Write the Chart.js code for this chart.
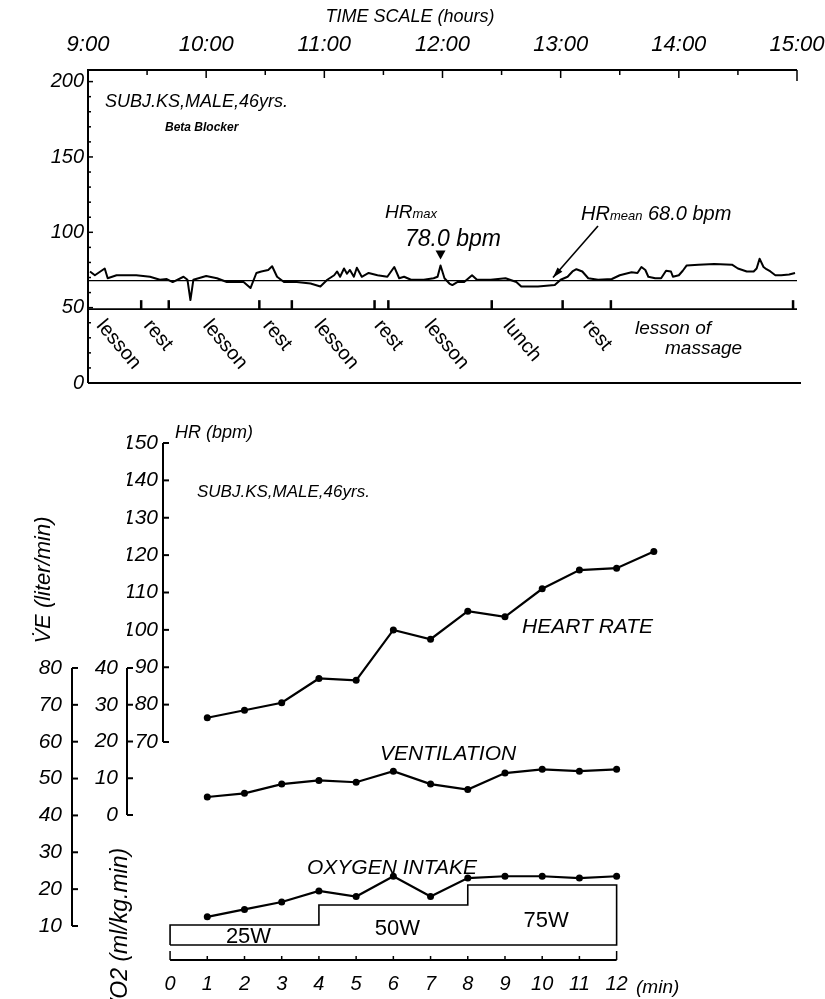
<!DOCTYPE html>
<html>
<head>
<meta charset="utf-8">
<script src="https://cdn.jsdelivr.net/npm/chart.js@4.4.1/dist/chart.umd.min.js"></script>
<style>
  html, body { margin: 0; padding: 0; background: #fff; }
  #wrap { position: relative; width: 825px; height: 999px; overflow: hidden; }
  canvas { position: absolute; left: 0; }
  #top { top: 0; }
  #bottom { top: 400px; }
</style>
</head>
<body>
<div id="wrap">
  <canvas id="top" width="825" height="400"></canvas>
  <canvas id="bottom" width="825" height="599"></canvas>
</div>
<script>
// ---- upper panel: heart rate during the day (minutes after 9:00) ----
const hourLabels = ['9:00', '10:00', '11:00', '12:00', '13:00', '14:00', '15:00'];
const bpmTicks = [0, 50, 100, 150, 200];
const hrTime = [1, 3.5, 8.5, 10, 14.5, 24.5, 31.5, 36.5, 40, 43, 48.5, 50.5, 52, 53.5, 60, 65.5, 70.5, 79, 82.5, 85.5,
  88, 91.5, 93.5, 96, 99.5, 106, 113, 118, 121.5, 125, 126.5, 128, 130, 131.5, 133, 135, 136.5, 139, 142.5, 147,
  152, 155.5, 158, 160.5, 164, 170.5, 175.5, 177.5, 179, 181, 183.5, 185, 187.5, 191, 195, 197.5, 204.5, 212, 217.5, 220,
  228.5, 237, 240, 243.5, 246, 248, 251, 254, 259, 266, 270, 276, 279, 281, 283, 284.5, 288, 291, 293.5, 296,
  297, 300, 302, 304, 310, 318, 327, 330, 334.5, 338, 339.5, 341, 343, 344.5, 346.5, 349, 352, 356, 359];
const hrBpm = [74, 71.5, 76, 69.5, 71.5, 71.5, 70.5, 68.5, 69, 67, 70.5, 68.5, 55, 68.5, 71, 69.5, 67, 67, 63, 73,
  74, 75, 77.5, 70.5, 67, 67, 66, 64, 68.5, 71.5, 74, 70.5, 76, 72.5, 75, 70.5, 76.5, 70.5, 73, 71.5,
  70.5, 77, 69.5, 70.5, 68.5, 68.5, 69.5, 70.5, 78, 69.5, 66, 65, 67, 67, 71.5, 68.5, 68.5, 69.5, 67, 64,
  64, 65, 68.5, 70.5, 74, 75.5, 74, 69.5, 68.5, 69, 71.5, 73.5, 73, 77, 75, 70.5, 69.5, 69.5, 74.5, 74,
  70.5, 71.5, 74.5, 78, 78.5, 79, 78.5, 76, 74, 74, 76, 82.5, 77, 75.5, 74, 71.5, 71.5, 72, 73];
const hrMean = 68.0;
const hrMax = 78.0;
const hrMaxTime = 179;
const eventTimes = [27, 41, 87, 103.5, 145.5, 152.5, 205, 241, 265.5, 358];
const activities = ['lesson', 'rest', 'lesson', 'rest', 'lesson', 'rest', 'lesson', 'lunch', 'rest'];
const activityTimes = [10, 34, 64, 94.5, 120.5, 151, 176.5, 216.5, 257];

// ---- lower panel: cycle ergometer test ----
const minuteTicks = [0, 1, 2, 3, 4, 5, 6, 7, 8, 9, 10, 11, 12];
const minutes = [1, 2, 3, 4, 5, 6, 7, 8, 9, 10, 11, 12];
const hrMinutes = [1, 2, 3, 4, 5, 6, 7, 8, 9, 10, 11, 12, 13];
const heartRate = [76.5, 78.5, 80.5, 87, 86.5, 100, 97.5, 105, 103.5, 111, 116, 116.5, 121];
const ventilation = [45, 46, 48.5, 49.5, 49, 52, 48.5, 47, 51.5, 52.5, 52, 52.5];
const oxygenIntake = [12.5, 14.5, 16.5, 19.5, 18, 23.5, 18, 23, 23.5, 23.5, 23, 23.5];
const hrAxisTicks = [70, 80, 90, 100, 110, 120, 130, 140, 150];
const midAxisTicks = [0, 10, 20, 30, 40];
const leftAxisTicks = [10, 20, 30, 40, 50, 60, 70, 80];
const stageStart = [0, 4, 8];
const stageEnd = [4, 8, 12];
const stageWatts = [25, 50, 75];
const stageLabels = ['25W', '50W', '75W'];

const FONT = '"Liberation Sans", Arial, sans-serif';
const italic = (size, weight) => ({ family: FONT, size: size, style: 'italic', weight: weight || 'normal' });

// fixed box size, no extra room for overhanging labels
const fixSize = (prop, size) => (s) => {
    s[prop] = size;
    s.paddingLeft = 0;
    s.paddingRight = 0;
    s.paddingTop = 0;
    s.paddingBottom = 0;
};

function text(ctx, str, x, y, size, opts) {
    opts = opts || {};
    ctx.font = (opts.italic === false ? '' : 'italic ') + (opts.bold ? 'bold ' : '') + size + 'px ' + FONT;
    ctx.textAlign = opts.align || 'left';
    ctx.textBaseline = opts.baseline || 'alphabetic';
    ctx.fillText(str, x, y);
    return ctx.measureText(str).width;
}

const topDecor = {
    id: 'topDecor',
    afterDraw(chart) {
        const { ctx, chartArea: a, scales: { x, y } } = chart;
        ctx.save();
        ctx.strokeStyle = '#000';
        ctx.fillStyle = '#000';
        ctx.lineWidth = 2;
        ctx.beginPath();
        ctx.moveTo(a.left, a.bottom);
        ctx.lineTo(a.left, a.top);
        ctx.lineTo(a.right, a.top);
        ctx.moveTo(a.left, a.bottom);
        ctx.lineTo(a.right + 4, a.bottom);
        ctx.stroke();

        ctx.lineWidth = 1.5;
        for (let m = 30; m <= 360; m += 30) {
            const px = x.getPixelForValue(m);
            const len = m === 360 ? 11 : (m % 60 === 0 ? 8 : 5);
            ctx.beginPath();
            ctx.moveTo(px, a.top);
            ctx.lineTo(px, a.top + len);
            ctx.stroke();
        }
        for (let v = 10; v <= 200; v += 10) {
            const py = y.getPixelForValue(v);
            ctx.beginPath();
            ctx.moveTo(a.left, py);
            ctx.lineTo(a.left + (v % 50 === 0 ? 5 : 3), py);
            ctx.stroke();
        }

        // activity time line with event marks
        const base = y.getPixelForValue(49);
        ctx.lineWidth = 1.6;
        ctx.beginPath();
        ctx.moveTo(a.left, base);
        ctx.lineTo(x.getPixelForValue(360), base);
        ctx.stroke();
        ctx.lineWidth = 2.5;
        eventTimes.forEach((t) => {
            const px = x.getPixelForValue(t);
            ctx.beginPath();
            ctx.moveTo(px, base);
            ctx.lineTo(px, base - 9);
            ctx.stroke();
        });

        // activity labels
        activities.forEach((label, i) => {
            ctx.save();
            ctx.translate(x.getPixelForValue(activityTimes[i]), 316);
            ctx.rotate(50 * Math.PI / 180);
            text(ctx, label, 0, 0, 20, { italic: false, baseline: 'top' });
            ctx.restore();
        });
        text(ctx, 'lesson of', 635, 334, 19);
        text(ctx, 'massage', 665, 354, 19);

        // titles and notes
        text(ctx, 'TIME SCALE (hours)', 410, 22, 18, { align: 'center' });
        text(ctx, 'SUBJ.KS,MALE,46yrs.', 105, 107, 18);
        text(ctx, 'Beta Blocker', 165, 131, 12, { bold: true });

        let w = text(ctx, 'HR', 385, 218, 19);
        text(ctx, 'max', 385 + w, 218, 13);
        text(ctx, hrMax.toFixed(1) + ' bpm', 405, 246, 23);
        const mx = x.getPixelForValue(hrMaxTime);
        const my = y.getPixelForValue(hrMax) - 6;
        ctx.beginPath();
        ctx.moveTo(mx - 5, my - 9);
        ctx.lineTo(mx + 5, my - 9);
        ctx.lineTo(mx, my);
        ctx.closePath();
        ctx.fill();

        w = text(ctx, 'HR', 581, 220, 20);
        const w2 = text(ctx, 'mean', 581 + w, 220, 13);
        text(ctx, ' ' + hrMean.toFixed(1) + ' bpm', 581 + w + w2, 220, 20);

        // arrow to the mean line
        const tx = 553, ty = y.getPixelForValue(hrMean) - 3;
        const sx = 598, sy = 226;
        const ang = Math.atan2(ty - sy, tx - sx);
        ctx.lineWidth = 1.6;
        ctx.beginPath();
        ctx.moveTo(sx, sy);
        ctx.lineTo(tx, ty);
        ctx.stroke();
        ctx.beginPath();
        ctx.moveTo(tx, ty);
        ctx.lineTo(tx - 11 * Math.cos(ang - 0.3), ty - 11 * Math.sin(ang - 0.3));
        ctx.lineTo(tx - 11 * Math.cos(ang + 0.3), ty - 11 * Math.sin(ang + 0.3));
        ctx.closePath();
        ctx.fill();
        ctx.restore();
    }
};

new Chart(document.getElementById('top'), {
    type: 'line',
    data: {
        datasets: [{
            label: 'Heart rate',
            data: hrTime.map((t, i) => ({ x: t, y: hrBpm[i] })),
            borderColor: '#000',
            borderWidth: 2,
            borderJoinStyle: 'round',
            pointRadius: 0,
            tension: 0
        }, {
            label: 'HR mean',
            data: [{ x: 0, y: hrMean }, { x: 360, y: hrMean }],
            borderColor: '#000',
            borderWidth: 1.2,
            pointRadius: 0
        }]
    },
    options: {
        responsive: false,
        animation: false,
        layout: { padding: { left: 0, top: 0, right: 28, bottom: 17 } },
        plugins: { legend: { display: false }, tooltip: { enabled: false } },
        scales: {
            x: {
                type: 'linear',
                position: 'top',
                min: 0,
                max: 360,
                afterBuildTicks: (s) => { s.ticks = hourLabels.map((_, i) => ({ value: i * 60 })); },
                afterFit: fixSize('height', 70),
                grid: { display: false, drawTicks: false },
                border: { display: false },
                ticks: {
                    autoSkip: false,
                    maxRotation: 0,
                    padding: 12,
                    color: '#000',
                    font: italic(22),
                    callback: (v, i) => hourLabels[i]
                }
            },
            y: {
                min: 0,
                max: 207.7,
                afterBuildTicks: (s) => { s.ticks = bpmTicks.map((v) => ({ value: v })); },
                afterFit: fixSize('width', 88),
                grid: { display: false, drawTicks: false },
                border: { display: false },
                ticks: { padding: 4, color: '#000', font: italic(20) }
            }
        }
    },
    plugins: [topDecor]
});

const bottomDecor = {
    id: 'bottomDecor',
    afterDraw(chart) {
        const { ctx, chartArea: a, scales: { x, hr, mid, resp } } = chart;
        ctx.save();
        ctx.strokeStyle = '#000';
        ctx.fillStyle = '#000';
        ctx.lineWidth = 2;

        const axis = (scale, ticks) => {
            const px = scale.right;
            ctx.beginPath();
            ctx.moveTo(px, scale.getPixelForValue(ticks[ticks.length - 1]));
            ctx.lineTo(px, scale.getPixelForValue(ticks[0]));
            ctx.stroke();
            ticks.forEach((v) => {
                const py = scale.getPixelForValue(v);
                ctx.beginPath();
                ctx.moveTo(px, py);
                ctx.lineTo(px + 6, py);
                ctx.stroke();
            });
        };
        axis(hr, hrAxisTicks);
        axis(mid, midAxisTicks);
        axis(resp, leftAxisTicks);

        // minute axis
        const x0 = x.getPixelForValue(minuteTicks[0]);
        const x1 = x.getPixelForValue(minuteTicks[minuteTicks.length - 1]);
        ctx.beginPath();
        ctx.moveTo(x0, a.bottom);
        ctx.lineTo(x1, a.bottom);
        ctx.stroke();
        ctx.lineWidth = 1.5;
        minuteTicks.forEach((m, i) => {
            const px = x.getPixelForValue(m);
            const len = (i === 0 || i === minuteTicks.length - 1) ? 9 : 4;
            ctx.beginPath();
            ctx.moveTo(px, a.bottom);
            ctx.lineTo(px, a.bottom - len);
            ctx.stroke();
        });

        // stage labels
        const labelY = [543, 535, 527];
        stageLabels.forEach((s, i) => {
            text(ctx, s, x.getPixelForValue((stageStart[i] + stageEnd[i]) / 2) + 4, labelY[i], 22, { italic: false, align: 'center' });
        });

        text(ctx, 'HR (bpm)', 175, 38, 18);
        text(ctx, 'SUBJ.KS,MALE,46yrs.', 197, 97, 17);
        text(ctx, 'HEART RATE', 522, 233, 21);
        text(ctx, 'VENTILATION', 380, 360, 21);
        text(ctx, 'OXYGEN INTAKE', 307, 474, 21);
        text(ctx, '(min)', 636, 593, 19);

        ctx.save();
        ctx.translate(42, 180);
        ctx.rotate(-Math.PI / 2);
        text(ctx, 'V\u0307E (liter/min)', 0, 8, 22, { align: 'center' });
        ctx.restore();
        ctx.save();
        ctx.translate(119, 614);
        ctx.rotate(-Math.PI / 2);
        text(ctx, 'V\u0307O2 (ml/kg.min)', 0, 8, 23);
        ctx.restore();
        ctx.restore();
    }
};

const workOutline = [{ x: stageStart[0], y: 0 }];
stageWatts.forEach((w, i) => {
    workOutline.push({ x: stageStart[i], y: w });
    workOutline.push({ x: stageEnd[i], y: w });
});
workOutline.push({ x: stageEnd[stageEnd.length - 1], y: 0 });
workOutline.push({ x: stageStart[0], y: 0 });

const series = (xs, ys) => xs.map((v, i) => ({ x: v, y: ys[i] }));
const pointLine = {
    borderColor: '#000',
    backgroundColor: '#000',
    borderWidth: 2.2,
    pointRadius: 3.5,
    pointBackgroundColor: '#000',
    pointBorderWidth: 0,
    tension: 0
};
const leftAxis = (min, max, ticks, width, weight, pad, size) => ({
    position: 'left',
    weight: weight,
    min: min,
    max: max,
    afterBuildTicks: (s) => { s.ticks = ticks.map((v) => ({ value: v })); },
    afterFit: fixSize('width', width),
    grid: { display: false, drawTicks: false },
    border: { display: false },
    ticks: { padding: pad, color: '#000', font: italic(size) }
});

new Chart(document.getElementById('bottom'), {
    type: 'line',
    data: {
        datasets: [
            Object.assign({ label: 'Heart rate', yAxisID: 'hr', data: series(hrMinutes, heartRate) }, pointLine),
            Object.assign({ label: 'Ventilation', yAxisID: 'resp', data: series(minutes, ventilation) }, pointLine),
            Object.assign({ label: 'Oxygen intake', yAxisID: 'resp', data: series(minutes, oxygenIntake) }, pointLine),
            {
                label: 'Work load',
                yAxisID: 'watt',
                data: workOutline,
                borderColor: '#000',
                borderWidth: 1.6,
                pointRadius: 0,
                tension: 0
            }
        ]
    },
    options: {
        responsive: false,
        animation: false,
        layout: { padding: { left: 0, top: 42, right: 160, bottom: 0 } },
        plugins: { legend: { display: false }, tooltip: { enabled: false } },
        scales: {
            x: {
                type: 'linear',
                min: -0.19,
                max: 13.3,
                afterBuildTicks: (s) => { s.ticks = minuteTicks.map((v) => ({ value: v })); },
                afterFit: fixSize('height', 39),
                grid: { display: false, drawTicks: false },
                border: { display: false },
                ticks: { autoSkip: false, maxRotation: 0, padding: 12, color: '#000', font: italic(20) }
            },
            hr: leftAxis(11.67, 150.27, hrAxisTicks, 36, 1, 5, 21),
            mid: leftAxis(-39.46, 101.5, midAxisTicks, 55, 2, 9, 21),
            resp: leftAxis(0.78, 141.3, leftAxisTicks, 72, 3, 10, 21),
            watt: { display: false, min: -18.75, max: 628.75 }
        }
    },
    plugins: [bottomDecor]
});
</script>
</body>
</html>
